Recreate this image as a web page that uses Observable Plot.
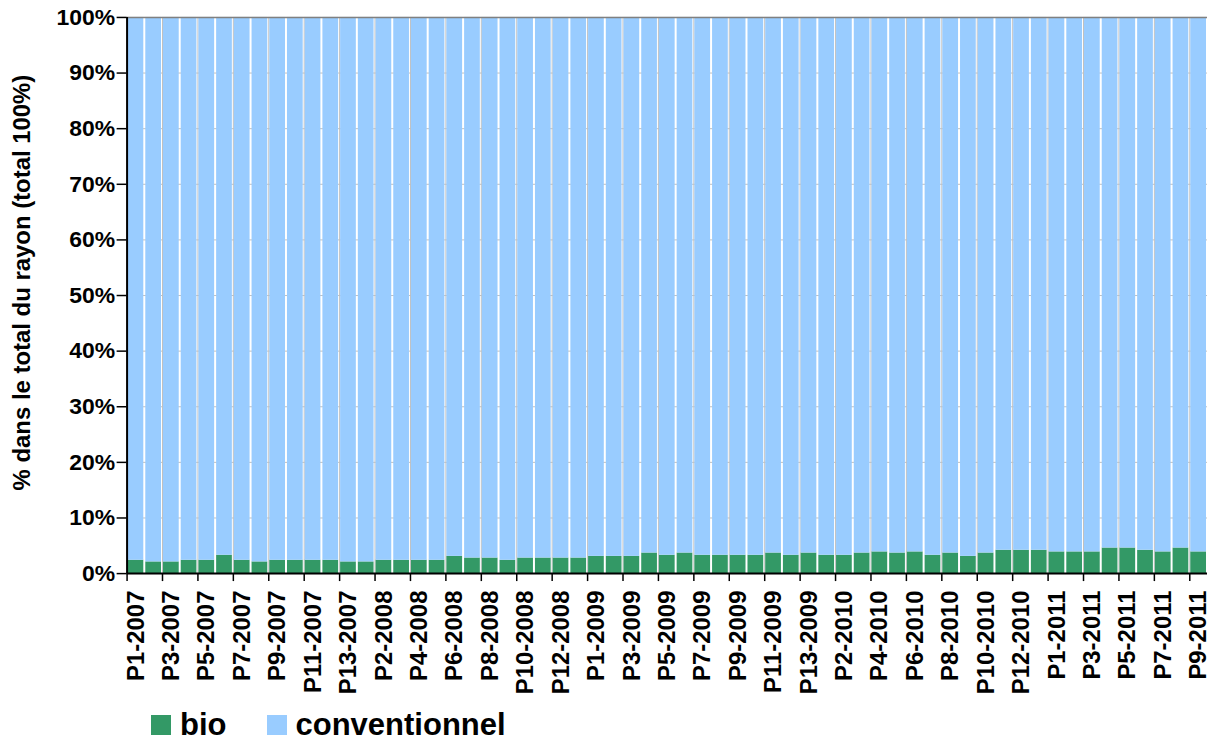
<!DOCTYPE html>
<html><head><meta charset="utf-8">
<script src="https://cdn.jsdelivr.net/npm/d3@7"></script>
<script src="https://cdn.jsdelivr.net/npm/@observablehq/plot@0.6"></script>
<style>
html,body{margin:0;padding:0;background:#fff;overflow:hidden;}
#legend{display:flex;align-items:center;height:40px;margin-top:7px;padding-left:151px;font:bold 31px/1 "Liberation Sans",Arial,sans-serif;color:#000;}
#legend .item{display:flex;align-items:center;margin-right:40px;}
#legend .sw{width:20px;height:20px;display:inline-block;margin-right:9px;}
</style></head><body>
<div id="chart"></div>
<div id="legend"></div>
<script>
const periods = [
 "P1-2007","P2-2007","P3-2007","P4-2007","P5-2007","P6-2007","P7-2007","P8-2007","P9-2007","P10-2007","P11-2007","P12-2007","P13-2007",
 "P1-2008","P2-2008","P3-2008","P4-2008","P5-2008","P6-2008","P7-2008","P8-2008","P9-2008","P10-2008","P11-2008","P12-2008","P13-2008",
 "P1-2009","P2-2009","P3-2009","P4-2009","P5-2009","P6-2009","P7-2009","P8-2009","P9-2009","P10-2009","P11-2009","P12-2009","P13-2009",
 "P1-2010","P2-2010","P3-2010","P4-2010","P5-2010","P6-2010","P7-2010","P8-2010","P9-2010","P10-2010","P11-2010","P12-2010","P13-2010",
 "P1-2011","P2-2011","P3-2011","P4-2011","P5-2011","P6-2011","P7-2011","P8-2011","P9-2011"
];
const bio = [
 2.4,2.1,2.1,2.4,2.4,3.3,2.4,2.1,2.4,2.4,2.4,2.4,2.1,
 2.1,2.4,2.4,2.4,2.4,3.1,2.8,2.8,2.4,2.8,2.8,2.8,2.8,
 3.1,3.1,3.1,3.7,3.3,3.7,3.3,3.3,3.3,3.3,3.7,3.3,3.7,
 3.3,3.3,3.7,3.9,3.7,3.9,3.3,3.7,3.1,3.7,4.2,4.2,4.2,
 3.9,3.9,3.9,4.6,4.6,4.2,3.9,4.6,3.9
];
const seriesNames = ["bio","conventionnel"];
const seriesColors = ["#339966","#99CCFF"];
const yTicks = [0,10,20,30,40,50,60,70,80,90,100];
const yTitle = "% dans le total du rayon (total 100%)";

const rows = periods.flatMap((p,i) => [
  {i, period:p, serie:seriesNames[0], y1:0, y2:bio[i]},
  {i, period:p, serie:seriesNames[1], y1:bio[i], y2:100}
]);
const boundaries = d3.range(0, periods.length + 1, 2);
const centers = d3.range(0, periods.length, 2).map(i => i + 0.5);

const font = '"Liberation Sans", Arial, sans-serif';
const chart = Plot.plot({
  width: 1211, height: 700,
  marginLeft: 127, marginRight: 0, marginTop: 17, marginBottom: 125,
  style: {fontFamily: font, fontWeight: "bold", fontSize: "22px", color: "#000", background: "#fff", overflow: "visible"},
  x: {type: "linear", domain: [0, periods.length]},
  y: {domain: [0, 100]},
  color: {domain: seriesNames, range: seriesColors},
  marks: [
    Plot.gridY({ticks: yTicks, stroke: "#c0c0c0", strokeOpacity: 1}),
    Plot.gridX({ticks: boundaries, stroke: "#c0c0c0", strokeOpacity: 1}),
    Plot.rect(rows, {x1: d => d.i, x2: d => d.i + 1, y1: "y1", y2: "y2", fill: "serie", insetLeft: 1, insetRight: 1}),
    Plot.ruleY([100], {stroke: "#808080", strokeWidth: 1.5}),
    Plot.axisY({ticks: yTicks, tickFormat: d => d + "%", tickSize: 10, tickPadding: 2, label: null, strokeWidth: 1.5, fontSize: 23}),
    Plot.axisX({ticks: boundaries, tickSize: 8, tickFormat: () => "", label: null, strokeWidth: 1.5}),
    Plot.axisX({ticks: centers, tickSize: 0, tickPadding: 17, tickRotate: -90, tickFormat: d => periods[Math.floor(d)], label: null, fontSize: 24}),
    Plot.ruleX([0], {strokeWidth: 2}),
    Plot.ruleY([0], {strokeWidth: 2}),
    Plot.text([yTitle], {frameAnchor: "left", rotate: -90, dx: -105, dy: -13, textAnchor: "middle", lineAnchor: "middle", fontSize: 24, fontWeight: "bold"})
  ]
});
document.getElementById("chart").appendChild(chart);

const legend = document.getElementById("legend");
seriesNames.forEach((n, k) => {
  const it = document.createElement("span");
  it.className = "item";
  it.innerHTML = `<span class="sw" style="background:${seriesColors[k]}"></span>${n}`;
  legend.appendChild(it);
});
</script>
</body></html>
